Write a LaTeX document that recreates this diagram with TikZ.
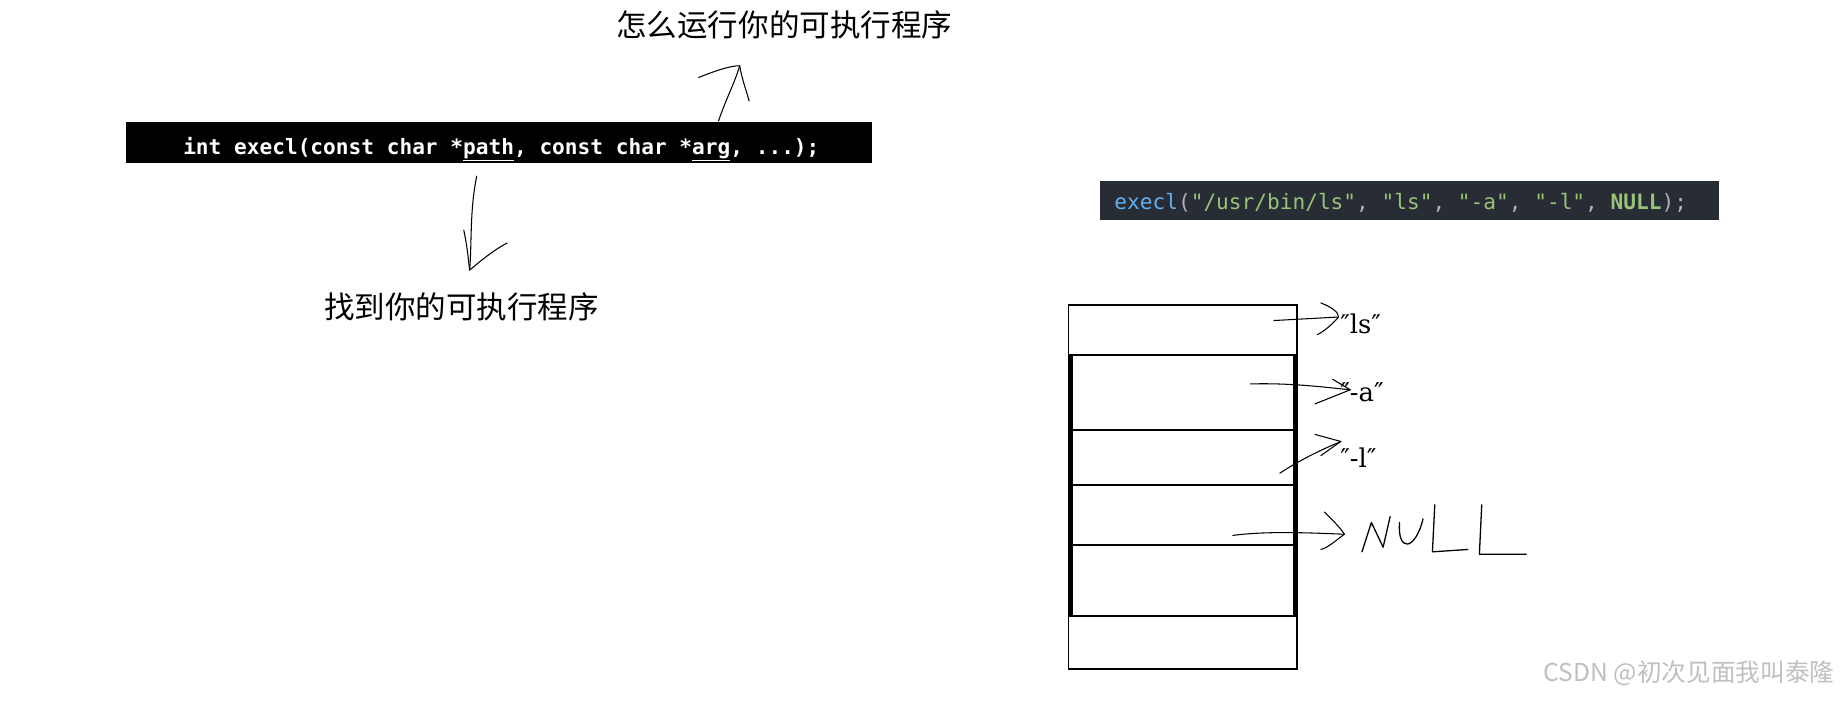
\documentclass[tikz,border=0pt]{standalone}
\usepackage{fontspec}
\newfontfamily\cjk{Noto Sans CJK SC}
\newfontfamily\mono{DejaVu Sans Mono}
\newfontfamily\djs{DejaVu Serif}
\usetikzlibrary{calc}
\definecolor{codebg}{HTML}{282C34}
\definecolor{cblue}{HTML}{61AFEF}
\definecolor{cgreen}{HTML}{98C379}
\definecolor{cgray}{HTML}{ABB2BF}
\begin{document}
\begin{tikzpicture}[x=1pt,y=-1pt,
  hand/.style={line width=0.9pt,line cap=round,line join=round},
  cell/.style={draw,line width=1.6pt},
  lbl/.style={font=\djs\fontsize{22}{24}\selectfont,anchor=west}]
\useasboundingbox (0,0) rectangle (1568,600);
% top code bar
\node[fill=black,minimum width=636pt,minimum height=35pt,inner sep=0pt] (bar) at (425,121.5) {};
\node[text=white,font=\mono\bfseries\fontsize{18}{20}\selectfont] (code) at (427,127)
 {int execl(const char *\underline{path}, const char *\underline{arg}, ...);};
\node[font=\cjk\fontsize{26}{28}\selectfont] (t1) at (668,21) {怎么运行你的可执行程序};
\node[font=\cjk\fontsize{26}{28}\selectfont] (t2) at (393,261) {找到你的可执行程序};
\coordinate (ua) at (612,103); \coordinate (ub) at (630,56);
\draw[hand] (ua) .. controls (618,85) and (626,70) .. (ub);
\draw[hand] (595,66) .. controls (610,60) and (622,56) .. (ub) .. controls (632,68) and (636,78) .. (638,86);
\coordinate (da) at (406,150); \coordinate (db) at (400,230);
\draw[hand] (da) .. controls (400,180) and (402,205) .. (db);
\draw[hand] (395,196) .. controls (398,210) and (399,222) .. (db) .. controls (412,220) and (422,212) .. (432,207);
% right code box
\node[fill=codebg,minimum width=527pt,minimum height=33pt,inner sep=0pt] (box) at (1200.5,170.5) {};
\node[font=\mono\fontsize{18}{20}\selectfont,text=cgray] (call) at (1193,173)
 {\textcolor{cblue}{execl}(\textcolor{cgreen}{"/usr/bin/ls"}, \textcolor{cgreen}{"ls"}, \textcolor{cgreen}{"-a"}, \textcolor{cgreen}{"-l"}, \textcolor{cgreen}{\bfseries NULL});};
% stack
\foreach \a/\b/\n in {260/302/r1,302/366/r2,366/413/r3,413/464/r4,464/525/r5,525/570/r6}
  \draw[cell] (910,\a) rectangle (1105,\b);
\draw[line width=3pt] (1103,302) -- (1103,525);
\draw[line width=3pt] (912,302) -- (912,525);
% labels
\node[lbl] (l1) at (1138,276) {″ls″};
\node[lbl] (l2) at (1138,334) {″-a″};
\node[lbl] (l3) at (1138,390) {″-l″};
\draw[hand,line width=1.1pt] (1160,470) -- (1168,445) -- (1178,466) -- (1184,440);
\draw[hand,line width=1.1pt] (1192,445) .. controls (1190,470) and (1205,470) .. (1212,442);
\draw[hand,line width=1.1pt] (1222,430) -- (1220,470) -- (1250,468);
\draw[hand,line width=1.1pt] (1262,430) -- (1260,472) -- (1300,472);
% hand arrows
\coordinate (h1) at (1140,270);
\draw[hand] (1085,273) -- (h1);
\draw[hand] (1125,258) .. controls (1135,262) and (1140,266) .. (h1) .. controls (1135,276) and (1128,282) .. (1122,285);
\coordinate (h2) at (1150,332);
\draw[hand] (1065,327) .. controls (1100,326) and (1130,330) .. (h2);
\draw[hand] (1135,323) -- (h2) -- (1120,344);
\coordinate (h3) at (1142,376);
\draw[hand] (1090,403) .. controls (1110,390) and (1128,382) .. (h3);
\draw[hand] (1120,370) -- (h3) -- (1125,388);
\coordinate (h4) at (1145,455);
\draw[hand] (1050,456) .. controls (1080,452) and (1120,454) .. (h4);
\draw[hand] (1128,436) .. controls (1136,444) and (1142,450) .. (h4) .. controls (1138,460) and (1132,466) .. (1125,468);
\node[font=\cjk\fontsize{21}{23}\selectfont,text=black!25,anchor=east] (wm) at (1566,573) {CSDN @初次见面我叫泰隆};
\end{tikzpicture}
\end{document}
